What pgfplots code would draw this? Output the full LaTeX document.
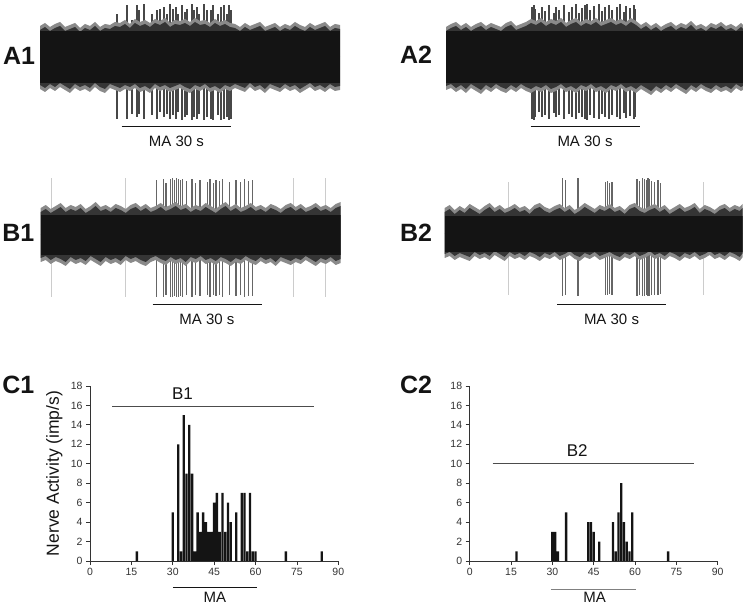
\documentclass[border=0pt]{standalone}
\usepackage{fontspec}
\setmainfont{Liberation Sans}
\usepackage{pgfplots}
\usepackage{pgfplotstable}
\pgfplotsset{compat=1.18}

\definecolor{cInk}{HTML}{141414}
\definecolor{cAxis}{HTML}{333333}
\definecolor{cHalo}{HTML}{8A8A8A}
\definecolor{cMid}{HTML}{353535}

% noise envelope of the raw traces: x (px from trace start), upper / lower reach
\pgfplotstableread{
x up dn
0 31 32
5 34 35
10 30 31
15 33 34
20 35 30
25 30 33
30 32 36
35 34 31
40 29 34
45 33 32
50 31 35
55 35 30
60 30 34
65 33 36
70 32 31
75 35 33
80 34 35
85 37 32
90 33 34
95 38 31
100 35 35
105 37 33
110 34 36
115 38 31
120 36 34
125 39 32
130 34 35
135 37 33
140 36 31
145 38 34
150 35 36
155 39 32
160 36 34
165 37 31
170 34 35
175 38 33
180 35 36
185 37 32
190 34 34
195 33 31
200 30 33
205 34 35
210 31 30
215 33 34
220 35 32
225 30 36
230 32 31
235 34 33
240 30 35
245 33 31
250 31 34
255 35 32
260 32 36
265 30 33
270 34 30
275 31 34
280 33 32
285 35 35
290 30 31
295 33 34
300 32 33
}\envAa
\pgfplotstableread{
x up dn
0 30 33
5 33 31
10 35 35
15 31 32
20 34 36
25 30 31
30 33 34
35 35 37
40 31 32
45 34 35
50 32 31
55 30 34
60 34 36
65 36 32
70 31 35
75 33 31
80 35 34
85 38 36
90 36 33
95 39 35
100 35 32
105 38 36
110 36 34
115 39 31
120 34 35
125 37 33
130 39 36
135 35 32
140 38 34
145 36 31
150 39 35
155 35 33
160 37 36
165 39 32
170 36 34
175 38 31
180 35 35
185 39 33
190 36 36
195 32 32
200 35 35
205 31 38
210 34 33
215 30 36
220 33 32
225 35 35
230 31 31
235 34 34
240 32 37
245 36 32
250 31 35
255 33 31
260 30 34
265 34 36
270 32 32
275 35 35
280 31 33
285 33 36
290 30 31
295 34 34
297 32 33
}\envAb
\pgfplotstableread{
x up dn
0 27 27
5 30 25
10 26 29
15 29 26
20 32 28
25 27 31
30 30 26
35 28 29
40 31 27
45 26 30
50 29 25
55 33 28
60 28 31
65 30 26
70 27 29
75 31 27
80 29 30
85 26 25
90 30 28
95 32 26
100 28 29
105 31 31
110 27 27
115 29 25
120 32 28
125 28 30
130 30 26
135 33 29
140 29 27
145 31 31
150 27 26
155 30 28
160 28 25
165 32 29
170 29 27
175 26 30
180 30 26
185 33 28
190 28 31
195 31 27
200 27 29
205 29 25
210 32 28
215 28 30
220 30 26
225 27 29
230 31 27
235 29 31
240 26 26
245 30 28
250 32 30
255 28 27
260 31 29
265 27 25
270 29 28
275 32 31
280 28 27
285 30 29
290 27 26
295 31 30
300 33 28
}\envBa
\pgfplotstableread{
x up dn
0 26 24
5 29 22
10 24 26
15 28 23
20 25 25
25 30 27
30 27 22
35 24 25
40 28 23
45 31 26
50 26 21
55 29 24
60 25 27
65 27 22
70 30 25
75 26 23
80 28 26
85 24 22
90 29 24
95 31 27
100 27 23
105 25 25
110 28 22
115 30 26
120 26 24
125 29 21
130 24 25
135 27 27
140 31 23
145 28 25
150 25 22
155 29 26
160 27 24
165 30 22
170 26 25
175 28 27
180 24 23
185 29 25
190 31 22
195 27 26
200 25 24
205 28 21
210 30 25
215 26 23
220 29 26
225 24 22
230 27 24
235 30 27
240 26 23
245 28 25
250 31 22
255 25 26
260 29 24
265 27 21
270 24 25
275 28 23
280 30 26
285 26 22
290 29 24
295 27 27
298 30 23
}\envBb

% spikes of the raw traces: x (px from trace start), height above / below centre
\pgfplotstableread{
x top bot
77 43 62
87 52 62
92 37 57
97 52 60
99 47 57
104 53 62
112 43 58
117 47 62
120 48 55
124 50 60
127 43 57
130 53 62
133 48 58
136 50 62
138 43 55
142 52 63
145 45 60
147 48 58
152 53 63
154 47 60
157 50 62
159 43 57
164 53 63
167 47 60
171 47 62
173 52 63
178 43 58
181 50 63
184 52 62
187 43 60
189 52 63
191 47 62
}\spkAa
\pgfplotstableread{
x top bot
86 50 62
88 52 63
89 48 60
93 44 55
96 50 60
99 46 58
103 52 62
108 44 56
110 50 60
113 47 58
118 52 62
123 45 57
126 50 60
130 53 62
133 44 56
136 49 60
139 52 62
141 53 63
144 47 58
148 51 61
153 53 62
156 46 57
159 50 60
163 52 62
166 47 58
171 50 60
174 53 62
178 45 56
180 51 61
184 49 59
188 52 62
189 48 60
}\spkAb
\pgfplotstableread{
x top bot
116 55 62
122.6 56 62
125.3 52 60
130 56 62
132 57 62
134 55 61
136 57 62
138 56 62
140 55 61
142 56 62
146 54 60
151.3 56 62
154.6 52 60
159.3 55 61
166.6 53 60
169.3 56 62
172.6 52 60
175.3 55 61
178.6 54 60
182 56 62
188.6 53 60
195.3 55 61
200 53 60
203.6 56 62
207.6 54 61
211.6 55 61
}\spkBa
\pgfplotstableread{
x top bot
11 57 62
84.3 57 62
252.6 57 62
284.3 57 62
}\fntBa
\pgfplotstableread{
x top bot
118 56 62
120.6 54 61
133.3 56 62
160.6 52 61
163 53 61
165 51 60
167.3 52 61
192.3 55 62
195 53 61
198 56 62
200 55 62
201.6 54 61
203.3 56 62
205 55 62
206.6 53 61
210 52 61
213.3 54 61
216 51 60
}\spkBb
\pgfplotstableread{
x top bot
64 52 61
259 52 61
}\fntBb

% histograms (imp/s per 1 s bin)
\pgfplotstableread{
x y
17 1
30 5
32 12
33 1
34 15
35 9
36 14
37 9
38 1
39 5
40 3
41 5
42 4
43 3
44 3
45 6
46 7
47 3
48 7
49 3
50 6
51 4
53 5
55 7
56 7
57 1
58 7
59 1
60 1
71 1
84 1
}\histA
\pgfplotstableread{
x y
17 1
30 3
31 3
32 1
35 5
43 4
44 4
45 3
47 2
52 4
53 1
54 5
55 8
56 4
57 2
58 1
59 5
72 1
}\histB

\pgfplotsset{
  trace/.style={hide axis, scale only axis, anchor=south west},
  hist/.style={scale only axis, anchor=south west, height=175pt,
    xmin=0, xmax=90, ymin=0, ymax=18, enlargelimits=false,
    axis lines=left, axis line style={-, draw=cAxis, line width=0.8pt},
    xtick={0,15,...,90}, ytick={0,2,...,18},
    tick align=outside, major tick length=4pt,
    tick style={draw=cAxis, line width=0.8pt},
    tick label style={font=\fontsize{10.5}{11}\selectfont, text=cAxis},
    /pgf/number format/assume math mode=true, clip=false},
  spike/.style={ycomb, no markers, line width=1.2pt},
  hair/.style={sharp plot, no markers, draw=none},
}
% noise band: light outer hairs, darker inner hairs, solid core
\newcommand{\noiseband}[3]{%
  \addplot[hair, fill=cHalo] table[x=x, y=up] {#1} \closedcycle;
  \addplot[hair, fill=cHalo] table[x=x, y expr=-\thisrow{dn}] {#1} \closedcycle;
  \addplot[hair, fill=cMid] table[x=x, y expr=\thisrow{up}-4] {#1} \closedcycle;
  \addplot[hair, fill=cMid] table[x=x, y expr=4-\thisrow{dn}] {#1} \closedcycle;
  \addplot[fill=cInk, draw=none] coordinates {(0,-#3)(#2,-#3)(#2,#3)(0,#3)};
}

\begin{document}
\begin{tikzpicture}
\useasboundingbox (0,0) rectangle (743pt,607pt);

% ---- A1
\begin{axis}[trace, at={(40pt,484pt)}, width=300pt, height=122pt,
  xmin=0, xmax=300, ymin=-66, ymax=56]
\addplot[spike, black!72] table[x=x, y=top] {\spkAa};
\addplot[spike, black!72] table[x=x, y expr=-\thisrow{bot}] {\spkAa};
\noiseband{\envAa}{300}{26}
\end{axis}

% ---- A2
\begin{axis}[trace, at={(446pt,484pt)}, width=297pt, height=122pt,
  xmin=0, xmax=297, ymin=-66, ymax=56]
\addplot[spike, black!72] table[x=x, y=top] {\spkAb};
\addplot[spike, black!72] table[x=x, y expr=-\thisrow{bot}] {\spkAb};
\noiseband{\envAb}{297}{26}
\end{axis}

% ---- B1
\begin{axis}[trace, at={(40.7pt,307pt)}, width=300pt, height=124pt,
  xmin=0, xmax=300, ymin=-65, ymax=59]
\addplot[spike, black!20, line width=0.6pt] table[x=x, y=top] {\fntBa};
\addplot[spike, black!20, line width=0.6pt] table[x=x, y expr=-\thisrow{bot}] {\fntBa};
\addplot[spike, black!60] table[x=x, y=top] {\spkBa};
\addplot[spike, black!60] table[x=x, y expr=-\thisrow{bot}] {\spkBa};
\noiseband{\envBa}{300}{20}
\end{axis}

% ---- B2
\begin{axis}[trace, at={(444.7pt,308pt)}, width=298pt, height=124pt,
  xmin=0, xmax=298, ymin=-65, ymax=59]
\addplot[spike, black!20, line width=0.6pt] table[x=x, y=top] {\fntBb};
\addplot[spike, black!20, line width=0.6pt] table[x=x, y expr=-\thisrow{bot}] {\fntBb};
\addplot[spike, black!60] table[x=x, y=top] {\spkBb};
\addplot[spike, black!60] table[x=x, y expr=-\thisrow{bot}] {\spkBb};
\noiseband{\envBb}{298}{18}
\end{axis}

% ---- C1
\begin{axis}[hist, at={(90pt,46pt)}, width=248.3pt,
  ylabel={Nerve Activity (imp/s)},
  ylabel style={at={(axis description cs:-0.144,0.5)}, anchor=center,
    font=\fontsize{17.5}{17.5}\selectfont, text=cInk}]
\addplot[ybar, bar width=0.85, bar shift=0pt, fill=cInk, draw=none] table[x=x, y=y] {\histA};
\addplot[sharp plot, no markers, draw=black!70, line width=0.8pt] coordinates {(8.1,15.9) (81.3,15.9)};
\node[font=\fontsize{17}{17}\selectfont, text=cInk] at (axis cs:33.5,17.2) {B1};
\draw[cInk, line width=0.9pt] (axis cs:30,-2.75) -- (axis cs:60.7,-2.75);
\node[font=\fontsize{15}{15}\selectfont, text=cInk] at (axis cs:45.3,-3.75) {MA};
\end{axis}

% ---- C2
\begin{axis}[hist, at={(469.7pt,46pt)}, width=248pt]
\addplot[ybar, bar width=0.85, bar shift=0pt, fill=cInk, draw=none] table[x=x, y=y] {\histB};
\addplot[sharp plot, no markers, draw=black!70, line width=0.8pt] coordinates {(8.3,10) (81.3,10)};
\node[font=\fontsize{17}{17}\selectfont, text=cInk] at (axis cs:39,11.4) {B2};
\draw[black!50, line width=1pt] (axis cs:29.5,-2.95) -- (axis cs:60.5,-2.95);
\node[font=\fontsize{15}{15}\selectfont, text=cInk] at (axis cs:45.3,-3.75) {MA};
\end{axis}

% ---- trace annotations
\draw[cInk, line width=1.2pt] (121.7pt,480.3pt) -- (231pt,480.3pt);
\node[font=\fontsize{15}{15}\selectfont, text=cInk] at (176.4pt,465.3pt) {MA 30 s};
\draw[cInk, line width=1.2pt] (530.7pt,480.3pt) -- (639.7pt,480.3pt);
\node[font=\fontsize{15}{15}\selectfont, text=cInk] at (585pt,465.3pt) {MA 30 s};
\draw[cInk, line width=1.2pt] (152.7pt,302.7pt) -- (261.7pt,302.7pt);
\node[font=\fontsize{15}{15}\selectfont, text=cInk] at (207pt,287.7pt) {MA 30 s};
\draw[cInk, line width=1.2pt] (557pt,302.7pt) -- (666pt,302.7pt);
\node[font=\fontsize{15}{15}\selectfont, text=cInk] at (611.5pt,287.7pt) {MA 30 s};

% ---- panel letters
\tikzset{panel/.style={font=\bfseries\fontsize{25}{25}\selectfont, text=cInk}}
\node[panel] at (19pt,551pt) {A1};
\node[panel] at (416pt,552pt) {A2};
\node[panel] at (18.3pt,374pt) {B1};
\node[panel] at (416pt,374pt) {B2};
\node[panel] at (18.3pt,222pt) {C1};
\node[panel] at (416pt,222pt) {C2};
\end{tikzpicture}
\end{document}
